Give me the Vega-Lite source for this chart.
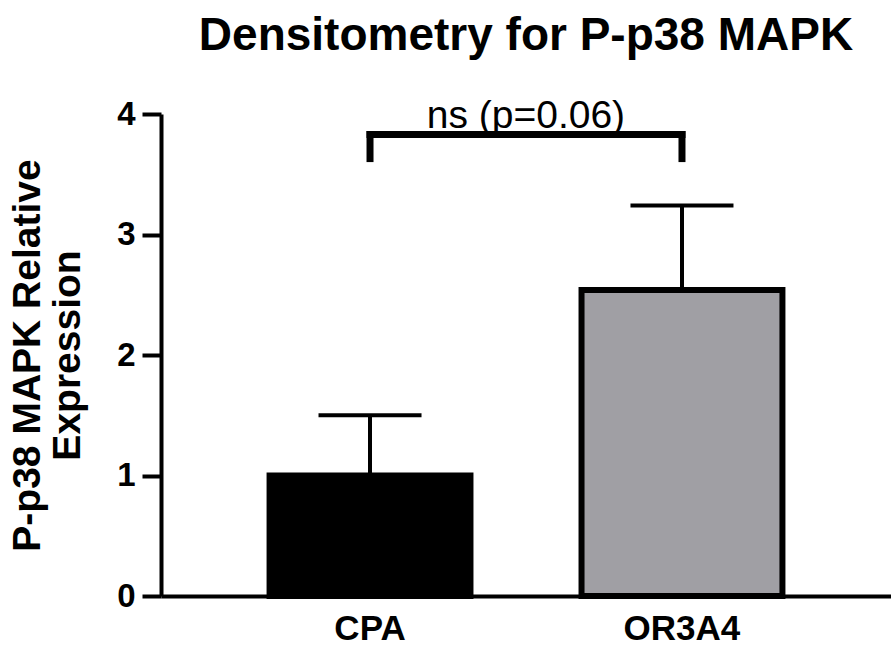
{
  "$schema": "https://vega.github.io/schema/vega-lite/v6.json",
  "autosize": {"type": "none"},
  "padding": {"left": 161, "top": 114, "right": 0, "bottom": 68},
  "width": 730,
  "height": 482,
  "background": "white",
  "config": {
    "view": {"stroke": null},
    "font": "Liberation Sans"
  },
  "title": {
    "text": "Densitometry for P-p38 MAPK",
    "fontSize": 46,
    "fontWeight": "bold",
    "font": "Liberation Sans",
    "color": "black",
    "anchor": "middle",
    "frame": "group",
    "offset": 37
  },
  "datasets": {
    "bars": [
      {"group": "CPA", "mean": 1.0, "upper": 1.5},
      {"group": "OR3A4", "mean": 2.54, "upper": 3.24}
    ],
    "bracket": [
      {"from": "CPA", "to": "OR3A4", "top": 3.83, "end": 3.63, "label": "ns (p=0.06)", "labelY": 3.88}
    ]
  },
  "layer": [
    {
      "data": {"name": "bars"},
      "mark": {"type": "rule", "color": "black", "strokeWidth": 4},
      "encoding": {
        "x": {"field": "group", "type": "nominal"},
        "y": {"field": "mean", "type": "quantitative"},
        "y2": {"field": "upper"}
      }
    },
    {
      "data": {"name": "bars"},
      "mark": {"type": "tick", "color": "black", "size": 103, "thickness": 4, "opacity": 1},
      "encoding": {
        "x": {"field": "group", "type": "nominal"},
        "y": {"field": "upper", "type": "quantitative"}
      }
    },
    {
      "data": {"name": "bars"},
      "mark": {"type": "bar", "stroke": "black", "strokeWidth": 6, "strokeJoin": "miter"},
      "encoding": {
        "x": {
          "field": "group",
          "type": "nominal",
          "sort": ["CPA", "OR3A4"],
          "scale": {"paddingInner": 0.356, "paddingOuter": 0.348},
          "axis": {
            "title": null,
            "bandPosition": 0.5,
            "labelAngle": 0,
            "labelAlign": "center",
            "ticks": false,
            "domainColor": "black",
            "domainWidth": 4,
            "labelFontSize": 35,
            "labelFontWeight": "bold",
            "labelFont": "Liberation Sans",
            "labelColor": "black",
            "labelPadding": 32
          }
        },
        "y": {
          "field": "mean",
          "type": "quantitative",
          "scale": {"domain": [0, 4], "nice": false, "zero": true},
          "axis": {
            "title": ["P-p38 MAPK Relative", "Expression"],
            "values": [0, 1, 2, 3, 4],
            "format": "d",
            "grid": false,
            "domainColor": "black",
            "domainWidth": 4,
            "tickColor": "black",
            "tickWidth": 4,
            "tickSize": 19,
            "labelFontSize": 33,
            "labelFontWeight": "bold",
            "labelFont": "Liberation Sans",
            "labelColor": "black",
            "labelPadding": 7,
            "titleFontSize": 39,
            "titleFontWeight": "bold",
            "titleFont": "Liberation Sans",
            "titleColor": "black",
            "titleAngle": -90,
            "titleAlign": "center",
            "titleBaseline": "alphabetic",
            "titleLineHeight": 40,
            "titleX": -122,
            "titleY": 241
          }
        },
        "fill": {
          "field": "group",
          "type": "nominal",
          "scale": {"domain": ["CPA", "OR3A4"], "range": ["#000000", "#a09fa4"]},
          "legend": null
        }
      }
    },
    {
      "data": {"name": "bracket"},
      "mark": {"type": "rule", "color": "black", "strokeWidth": 7, "strokeCap": "square"},
      "encoding": {
        "x": {"field": "from", "type": "nominal"},
        "x2": {"field": "to"},
        "y": {"field": "top", "type": "quantitative"}
      }
    },
    {
      "data": {"name": "bracket"},
      "mark": {"type": "rule", "color": "black", "strokeWidth": 7, "strokeCap": "square"},
      "encoding": {
        "x": {"field": "from", "type": "nominal"},
        "y": {"field": "end", "type": "quantitative"},
        "y2": {"field": "top"}
      }
    },
    {
      "data": {"name": "bracket"},
      "mark": {"type": "rule", "color": "black", "strokeWidth": 7, "strokeCap": "square"},
      "encoding": {
        "x": {"field": "to", "type": "nominal"},
        "y": {"field": "end", "type": "quantitative"},
        "y2": {"field": "top"}
      }
    },
    {
      "data": {"name": "bracket"},
      "mark": {"type": "text", "fontSize": 39, "font": "Liberation Sans", "color": "black", "baseline": "alphabetic", "align": "center"},
      "encoding": {
        "x": {"field": "from", "type": "nominal", "bandPosition": 1.276},
        "y": {"field": "labelY", "type": "quantitative"},
        "text": {"field": "label"}
      }
    }
  ]
}
